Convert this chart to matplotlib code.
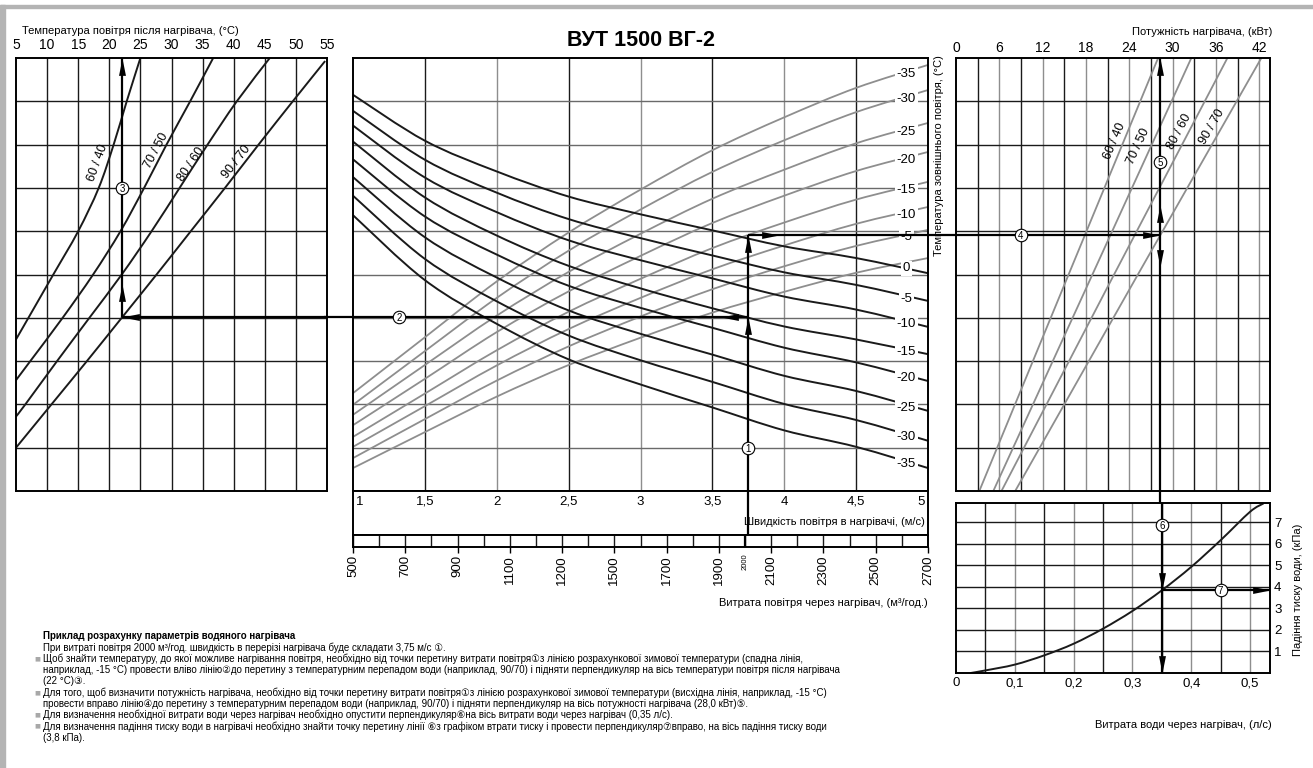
import numpy as np
import matplotlib.pyplot as plt
from matplotlib.path import Path
from matplotlib.patches import PathPatch

plt.rcParams['font.family'] = ['Liberation Sans', 'DejaVu Sans', 'Noto Sans CJK SC']

W, H = 1313, 768

# ---- ліва частина: температура повітря після нагрівача, °C (рядки сітки 0..10) ----
water_labels = ['60 / 40', '70 / 50', '80 / 60', '90 / 70']
left_rows = [
    [3.5, 4, 5, 6, 7, 8, 9, 10],
    [2.56, 3, 4, 5, 6, 7, 8, 9, 10],
    [1.72, 2, 3, 4, 5, 6, 7, 8, 9, 10],
    [1, 2, 3, 4, 5, 6, 7, 8, 9, 9.93],
]
left_temps = [
    [5, 7.0, 11.0, 15.0, 18.3, 20.7, 22.8, 25.0],
    [5, 7.3, 12.5, 17.4, 21.8, 25.6, 29.2, 33.0, 36.7],
    [5, 6.5, 11.6, 16.8, 22.0, 26.8, 31.3, 35.8, 40.5, 45.8],
    [5, 10.7, 16.4, 22.0, 27.6, 33.1, 38.6, 44.0, 49.5, 54.7],
]

# ---- центральна частина: швидкість повітря, м/с ----
velocity = [1, 1.5, 2, 2.5, 3, 3.5, 4, 4.5, 5]
# спадні лінії (зимова температура)
fall_temps = [0, -5, -10, -15, -20, -25, -30, -35]
fall_rows = [
    [9.15, 8.09, 7.38, 6.80, 6.39, 6.02, 5.65, 5.38, 5.03],
    [8.78, 7.65, 6.89, 6.28, 5.84, 5.44, 5.05, 4.76, 4.39],
    [8.44, 7.24, 6.44, 5.79, 5.33, 4.91, 4.49, 4.19, 3.79],
    [8.07, 6.78, 5.90, 5.20, 4.68, 4.22, 3.80, 3.50, 3.16],
    [7.66, 6.34, 5.46, 4.74, 4.23, 3.77, 3.31, 2.97, 2.54],
    [7.25, 5.86, 4.93, 4.17, 3.63, 3.15, 2.66, 2.31, 1.85],
    [6.82, 5.36, 4.38, 3.59, 3.02, 2.52, 2.01, 1.64, 1.16],
    [6.37, 4.87, 3.86, 3.04, 2.46, 1.93, 1.40, 1.02, 0.53],
]
# висхідні лінії
rise_temps = [-35, -30, -25, -20, -15, -10, -5, 0]
rise_rows = [
    [2.26, 3.55, 4.84, 5.97, 6.96, 7.87, 8.63, 9.31, 9.84],
    [1.99, 3.23, 4.46, 5.55, 6.50, 7.37, 8.10, 8.75, 9.26],
    [1.76, 2.91, 4.05, 5.06, 5.94, 6.75, 7.42, 8.03, 8.50],
    [1.52, 2.59, 3.67, 4.61, 5.43, 6.19, 6.82, 7.39, 7.83],
    [1.25, 2.25, 3.25, 4.14, 4.90, 5.61, 6.20, 6.73, 7.14],
    [1.02, 1.96, 2.90, 3.74, 4.46, 5.12, 5.67, 6.17, 6.56],
    [0.76, 1.66, 2.55, 3.34, 4.03, 4.66, 5.19, 5.66, 6.03],
    [0.53, 1.36, 2.18, 2.91, 3.54, 4.12, 4.60, 5.04, 5.38],
]
speed_labels = ['1', '1,5', '2', '2,5', '3', '3,5', '4', '4,5', '5']
flow_ticks = [500, 700, 900, 1100, 1300, 1500, 1700, 1900, 2100, 2300, 2500, 2700]
flow_labels = ['500', '700', '900', '1100', '1200', '1500', '1700', '1900',
               '2100', '2300', '2500', '2700']

# ---- права частина: потужність, кВт ----
power_rows = [0, 5, 10]
power_kw = [
    [3.23, 15.6, 28.0],
    [5.17, 18.9, 32.6],
    [6.3, 21.9, 37.6],
    [8.2, 25.2, 42.3],
]

# ---- падіння тиску води ----
water_flow = [0.025, 0.05, 0.1, 0.15, 0.2, 0.25, 0.3, 0.35, 0.4, 0.45, 0.5, 0.523]
pressure_drop = [0, 0.12, 0.39, 0.82, 1.36, 2.06, 2.88, 3.84, 4.93, 6.17, 7.49, 7.88]

# ---- приклад ----
ex_flow = 2000
ex_speed = 3.75
ex_temp = -15
ex_water = 0.35

DARK = '#1a1a1a'
GREY = '#8e8e8e'

fig = plt.figure(figsize=(W / 100, H / 100), dpi=100)


def box(x0, y0, x1, y1):
    return fig.add_axes([x0 / W, 1 - y1 / H, (x1 - x0) / W, (y1 - y0) / H])


def ftext(x, y, s, **kw):
    fig.text(x / W, 1 - y / H, s, **kw)


def clean(ax):
    ax.tick_params(left=False, bottom=False, labelleft=False, labelbottom=False)
    for sp in ax.spines.values():
        sp.set_linewidth(1.4)
        sp.set_zorder(10)


def smooth(ax, xs, ys, color, lw, zorder=3):
    # плавна крива через зчитані точки (кубічні сегменти Безьє)
    p = np.column_stack([xs, ys]).astype(float)
    verts, codes = [p[0]], [Path.MOVETO]
    n = len(p)
    for i in range(n - 1):
        p0 = p[i - 1] if i > 0 else p[i]
        p3 = p[i + 2] if i + 2 < n else p[i + 1]
        verts += [p[i] + (p[i + 1] - p0) / 6, p[i + 1] - (p3 - p[i]) / 6, p[i + 1]]
        codes += [Path.CURVE4] * 3
    ax.add_patch(PathPatch(Path(verts, codes), fill=False, ec=color, lw=lw, zorder=zorder))


ARROW = [(0, 0), (-0.2, -1), (0.2, -1), (0, 0)]
TURN = {
    'up': lambda p: p,
    'down': lambda p: (-p[0], -p[1]),
    'left': lambda p: (-p[1], p[0]),
    'right': lambda p: (p[1], -p[0]),
}


def arrow(ax, x, y, d):
    verts = [TURN[d](p) for p in ARROW]
    ax.plot(x, y, marker=verts, ms=25, color='black', mew=0, ls='none',
            zorder=8, clip_on=False)


def badge(ax, x, y, n):
    ax.plot(x, y, 'o', ms=9, mfc='white', mec='black', mew=0.8, zorder=9, clip_on=False)
    ax.text(x, y, str(n), ha='center', va='center_baseline', fontsize=7, zorder=10)


guide = dict(color='black', lw=1.6, zorder=7, solid_capstyle='butt')

# рамка зображення
fig.patches.append(plt.Rectangle((0, 0), 5 / W, 1 - 5 / H, transform=fig.transFigure,
                                 color='#b4b4b4', zorder=0))
fig.patches.append(plt.Rectangle((0, 1 - 8 / H), 1, 3 / H, transform=fig.transFigure,
                                 color='#b4b4b4', zorder=0))

# обчислення точок прикладу
row2 = np.interp(ex_speed, velocity, fall_rows[fall_temps.index(ex_temp)])
row4 = np.interp(ex_speed, velocity, rise_rows[rise_temps.index(ex_temp)])
t_out = np.interp(row2, left_rows[3], left_temps[3])
p_kw = np.interp(row4, power_rows, power_kw[3])
dp = np.interp(ex_water, water_flow, pressure_drop)

# ================= ліва частина =================
ax_l = box(16, 58, 327, 491)
clean(ax_l)
ax_l.set_xlim(5, 55)
ax_l.set_ylim(0, 10)
for t in range(10, 55, 5):
    ax_l.axvline(t, color=DARK, lw=1.0)
for r in range(1, 10):
    ax_l.axhline(r, color=DARK, lw=1.0)
for rows, temps in zip(left_rows, left_temps):
    smooth(ax_l, temps, rows, DARK, 1.4)
ax_l.xaxis.tick_top()
ax_l.set_xticks(range(5, 56, 5))
ax_l.tick_params(top=True, labeltop=True, length=0, pad=4, labelsize=10)
for lab, (x, y, rot) in zip(water_labels, [(18.1, 7.57, 70), (27.5, 7.86, 62),
                                           (33.1, 7.55, 56), (40.5, 7.6, 52)]):
    ax_l.text(x, y, lab, rotation=rot, ha='center', va='center', fontsize=9,
              rotation_mode='anchor')
ax_l.plot([t_out, 55], [row2, row2], **guide)
ax_l.plot([t_out, t_out], [row2, 10], **guide)
arrow(ax_l, t_out, 10, 'up')
arrow(ax_l, t_out, row2 + 0.77, 'up')
arrow(ax_l, t_out, row2, 'left')
badge(ax_l, t_out, 7.0, 3)
ftext(22, 31, 'Температура повітря після нагрівача, (°С)', fontsize=8, ha='left', va='center')

# ================= центральна частина =================
ax_c = box(353, 58, 928, 491)
clean(ax_c)
ax_c.set_xlim(1, 5)
ax_c.set_ylim(0, 10)
for v in [1.5, 2.5, 3.5, 4.5]:
    ax_c.axvline(v, color=DARK, lw=1.0)
for v in [2, 3, 4]:
    ax_c.axvline(v, color=GREY, lw=1.0)
for r in range(1, 10):
    ax_c.axhline(r, color='#6a6a6a', lw=1.0)
for rows in rise_rows:
    smooth(ax_c, velocity, rows, GREY, 1.3, zorder=3)
for rows in fall_rows:
    smooth(ax_c, velocity, rows, DARK, 1.4, zorder=4)

lab_v = 4.85
lab_box = dict(boxstyle='square,pad=0.12', fc='white', ec='none')
for t, rows in zip(rise_temps[:-1], rise_rows[:-1]):
    ax_c.text(lab_v, np.interp(lab_v, velocity, rows) - 0.06, str(t), ha='center',
              va='center', fontsize=9.5, bbox=lab_box, zorder=5)
for t, rows in zip(fall_temps[1:], fall_rows[1:]):
    ax_c.text(lab_v, np.interp(lab_v, velocity, rows) - 0.06, str(t), ha='center',
              va='center', fontsize=9.5, bbox=lab_box, zorder=5)
zero_y = (np.interp(lab_v, velocity, fall_rows[0]) + np.interp(lab_v, velocity, rise_rows[-1])) / 2
ax_c.text(lab_v, zero_y - 0.06, '0', ha='center', va='center', fontsize=9.5,
          bbox=lab_box, zorder=5)

ax_c.plot([ex_speed, ex_speed], [0, row4], **guide)
ax_c.plot([ex_speed, 0.8], [row2, row2], clip_on=False, **guide)
ax_c.plot([ex_speed, 5.25], [row4, row4], clip_on=False, **guide)
arrow(ax_c, ex_speed, row2, 'up')
arrow(ax_c, ex_speed, row4, 'up')
arrow(ax_c, ex_speed - 0.19, row2, 'left')
arrow(ax_c, ex_speed + 0.21, row4, 'right')
badge(ax_c, ex_speed, 1.0, 1)
badge(ax_c, 1.32, row2, 2)

ftext(641, 40, 'ВУТ 1500 ВГ-2', fontsize=15.5, fontweight='bold', ha='center', va='center')
ftext(939.5, 156, 'Температура зовнішнього повітря, (°С)', fontsize=8, rotation=90,
      ha='center', va='center')

# швидкість
ax_v = box(353, 491, 928, 535)
clean(ax_v)
ax_v.set_xlim(1, 5)
ax_v.set_ylim(0, 1)
for v, lab in zip(velocity, speed_labels):
    ha = 'left' if v == 1 else ('right' if v == 5 else 'center')
    dx = 0.02 if v == 1 else (-0.02 if v == 5 else 0)
    ax_v.text(v + dx, 0.75, lab, ha=ha, va='center', fontsize=9.5)
ax_v.text(4.98, 0.3, 'Швидкість повітря в нагрівачі, (м/с)', ha='right', va='center',
          fontsize=8)
ax_v.axvline(ex_speed, **guide)

# витрата повітря
ax_f = box(353, 535, 928, 547)
for sp in ax_f.spines.values():
    sp.set_linewidth(1.4)
ax_f.set_xlim(500, 2700)
ax_f.set_ylim(0, 1)
ax_f.vlines(range(600, 2700, 200), 0, 1, color=DARK, lw=1.0)
ax_f.vlines(flow_ticks, 0, 1, color=DARK, lw=1.0)
ax_f.set_xticks(flow_ticks)
ax_f.set_xticklabels(flow_labels, rotation=90, fontsize=9.5)
ax_f.tick_params(axis='x', direction='out', length=4, width=1, pad=2)
ax_f.tick_params(left=False, labelleft=False)
ax_f.axvline(ex_flow, **guide)
ax_f.text(ex_flow, -0.55, str(ex_flow), rotation=90, fontsize=5.5, ha='center', va='top',
          transform=ax_f.get_xaxis_transform())
ftext(928, 603, 'Витрата повітря через нагрівач, (м³/год.)', fontsize=8, ha='right', va='center')

# ================= права частина =================
ax_r = box(956, 58, 1270, 491)
clean(ax_r)
ax_r.set_xlim(0, 43.5)
ax_r.set_ylim(0, 10)
for k in range(3, 43, 3):
    ax_r.axvline(k, color=GREY if k % 6 == 0 else DARK, lw=1.0)
for r in range(1, 10):
    ax_r.axhline(r, color=DARK, lw=1.0)
for kw in power_kw:
    ax_r.plot(kw, power_rows, color=GREY, lw=1.3)
ax_r.xaxis.tick_top()
ax_r.set_xticks(range(0, 43, 6))
ax_r.tick_params(top=True, labeltop=True, length=0, pad=2, labelsize=10)
for lab, (x, y, rot) in zip(water_labels, [(22.0, 8.07, 67), (25.3, 7.95, 65),
                                           (31.0, 8.3, 62), (35.4, 8.4, 60)]):
    ax_r.text(x, y, lab, rotation=rot, ha='center', va='center', fontsize=9,
              rotation_mode='anchor')
ax_r.plot([0, p_kw], [row4, row4], **guide)
ax_r.plot([p_kw, p_kw], [-0.3, 10], clip_on=False, **guide)
arrow(ax_r, p_kw, row4, 'right')
arrow(ax_r, p_kw, 10, 'up')
arrow(ax_r, p_kw, row4 + 0.7, 'up')
arrow(ax_r, p_kw, row4 - 0.73, 'down')
badge(ax_r, 9.0, row4, 4)
badge(ax_r, p_kw, 7.6, 5)
ftext(1272, 32, 'Потужність нагрівача, (кВт)', fontsize=8, ha='right', va='center')

# ================= падіння тиску =================
ax_p = box(956, 503, 1270, 673)
clean(ax_p)
ax_p.set_xlim(0, 0.534)
ax_p.set_ylim(0, 7.9)
for i in range(1, 11):
    ax_p.axvline(i * 0.05, color=GREY if i % 2 == 0 else DARK, lw=1.0)
for k in range(1, 8):
    ax_p.axhline(k, color=DARK, lw=1.0)
smooth(ax_p, water_flow, pressure_drop, DARK, 1.4)
ax_p.set_xticks([0, 0.1, 0.2, 0.3, 0.4, 0.5])
ax_p.set_xticklabels(['0', '0,1', '0,2', '0,3', '0,4', '0,5'])
ax_p.set_yticks(range(1, 8))
ax_p.yaxis.tick_right()
ax_p.tick_params(bottom=True, labelbottom=True, right=True, labelright=True,
                 length=0, pad=3, labelsize=9.5)
ax_p.plot([ex_water, ex_water], [0, 7.9], **guide)
ax_p.plot([ex_water, 0.534], [dp, dp], **guide)
arrow(ax_p, ex_water, dp, 'down')
arrow(ax_p, ex_water, 0, 'down')
arrow(ax_p, 0.534, dp, 'right')
badge(ax_p, ex_water, 6.9, 6)
badge(ax_p, 0.45, dp, 7)
ftext(1298, 590, 'Падіння тиску води, (кПа)', fontsize=8, rotation=90, ha='center', va='center')
ftext(1272, 725, 'Витрата води через нагрівач, (л/с)', fontsize=8, ha='right', va='center')

# ================= пояснення =================
note_font = ['Liberation Sans Narrow', 'Liberation Sans', 'DejaVu Sans', 'Noto Sans CJK SC']
notes = [
    ('', 'Приклад розрахунку параметрів водяного нагрівача'),
    ('', 'При витраті повітря 2000 м³/год. швидкість в перерізі нагрівача буде складати 3,75 м/с ①.'),
    ('■', 'Щоб знайти температуру, до якої можливе нагрівання повітря, необхідно від точки перетину витрати повітря①з лінією розрахункової зимової температури (спадна лінія,'),
    ('', 'наприклад, -15 °С) провести вліво лінію②до перетину з температурним перепадом води (наприклад, 90/70) і підняти перпендикуляр на вісь температури повітря після нагрівача'),
    ('', '(22 °С)③.'),
    ('■', 'Для того, щоб визначити потужність нагрівача, необхідно від точки перетину витрати повітря①з лінією розрахункової зимової температури (висхідна лінія, наприклад, -15 °С)'),
    ('', 'провести вправо лінію④до перетину з температурним перепадом води (наприклад, 90/70) і підняти перпендикуляр на вісь потужності нагрівача (28,0 кВт)⑤.'),
    ('■', 'Для визначення необхідної витрати води через нагрівач необхідно опустити перпендикуляр⑥на вісь витрати води через нагрівач (0,35 л/с).'),
    ('■', 'Для визначення падіння тиску води в нагрівачі необхідно знайти точку перетину лінії ⑥з графіком втрати тиску і провести перпендикуляр⑦вправо, на вісь падіння тиску води'),
    ('', '(3,8 кПа).'),
]
y = 636
for i, (bullet, line) in enumerate(notes):
    if bullet:
        ftext(34, y, bullet, fontsize=4.5, color='#a8a8a8', ha='left', va='center',
              family=['DejaVu Sans'])
    ftext(43, y, line, fontsize=7, ha='left', va='center', family=note_font,
          fontweight='bold' if i == 0 else 'normal')
    y += 11.3

fig.savefig('out.png', dpi=100, facecolor='white')
